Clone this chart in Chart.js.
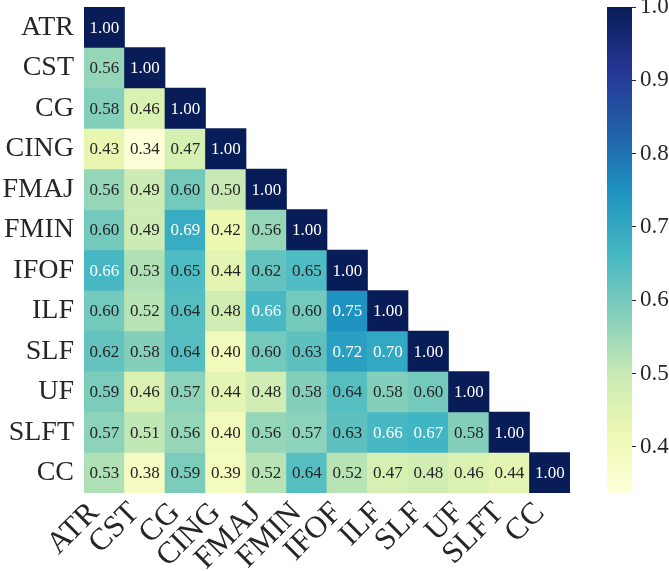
<!DOCTYPE html>
<html><head><meta charset="utf-8">
<script src="https://cdn.jsdelivr.net/npm/chart.js@4.4.0/dist/chart.umd.min.js"></script>
<style>body{margin:0;background:#fff;} canvas{position:absolute;left:0;top:0;}</style>
</head><body>
<canvas id="hm" width="669" height="571"></canvas>
<canvas id="cb" width="669" height="571"></canvas>
<script>
const names = ['ATR','CST','CG','CING','FMAJ','FMIN','IFOF','ILF','SLF','UF','SLFT','CC'];
const rowATR  = [1.00];
const rowCST  = [0.56, 1.00];
const rowCG   = [0.58, 0.46, 1.00];
const rowCING = [0.43, 0.34, 0.47, 1.00];
const rowFMAJ = [0.56, 0.49, 0.60, 0.50, 1.00];
const rowFMIN = [0.60, 0.49, 0.69, 0.42, 0.56, 1.00];
const rowIFOF = [0.66, 0.53, 0.65, 0.44, 0.62, 0.65, 1.00];
const rowILF  = [0.60, 0.52, 0.64, 0.48, 0.66, 0.60, 0.75, 1.00];
const rowSLF  = [0.62, 0.58, 0.64, 0.40, 0.60, 0.63, 0.72, 0.70, 1.00];
const rowUF   = [0.59, 0.46, 0.57, 0.44, 0.48, 0.58, 0.64, 0.58, 0.60, 1.00];
const rowSLFT = [0.57, 0.51, 0.56, 0.40, 0.56, 0.57, 0.63, 0.66, 0.67, 0.58, 1.00];
const rowCC   = [0.53, 0.38, 0.59, 0.39, 0.52, 0.64, 0.52, 0.47, 0.48, 0.46, 0.44, 1.00];
const matrix = [rowATR,rowCST,rowCG,rowCING,rowFMAJ,rowFMIN,rowIFOF,rowILF,rowSLF,rowUF,rowSLFT,rowCC];
const cbTicks = [0.4,0.5,0.6,0.7,0.8,0.9,1.0];
const vmin = 0.337, vmax = 1.0;
const ylgnbu = ['#ffffd9','#edf8b1','#c7e9b4','#7fcdbb','#41b6c4','#1d91c0','#225ea8','#253494','#081d58'];

function hex2rgb(h){return [parseInt(h.substr(1,2),16),parseInt(h.substr(3,2),16),parseInt(h.substr(5,2),16)];}
function cmap(v){
  let t=(v-vmin)/(vmax-vmin); t=Math.max(0,Math.min(1,t));
  const p=t*8; const i=Math.min(7,Math.floor(p)); const f=p-i;
  const a=hex2rgb(ylgnbu[i]), b=hex2rgb(ylgnbu[i+1]);
  return a.map((c,k)=>Math.round(c+(b[k]-c)*f));
}
function rgbStr(c){return 'rgb('+c[0]+','+c[1]+','+c[2]+')';}
function lum(c){
  const l=c.map(x=>{x/=255;return x<=0.03928?x/12.92:Math.pow((x+0.055)/1.055,2.4);});
  return 0.2126*l[0]+0.7152*l[1]+0.0722*l[2];
}
const FONT='Liberation Serif';

const annot = {
  id:'annot',
  afterDatasetsDraw(chart){
    const ctx=chart.ctx;
    ctx.save();
    ctx.font='17px "'+FONT+'"';
    ctx.textAlign='center'; ctx.textBaseline='middle';
    chart.data.datasets.forEach((ds,di)=>{
      const meta=chart.getDatasetMeta(di);
      meta.data.forEach((el,j)=>{
        const v=ds.data[j].v; const c=cmap(v);
        ctx.fillStyle = lum(c)>0.408 ? '#262626' : '#ffffff';
        ctx.fillText(v.toFixed(2), el.x, (el.y+el.base)/2+1);
      });
    });
    ctx.restore();
  }
};

const datasets = matrix.map((row,i)=>({
  label:names[i],
  data: row.map((v,j)=>({x:names[j], y:[i,i+1], v:v})),
  backgroundColor: ctx => ctx.raw ? rgbStr(cmap(ctx.raw.v)) : '#fff',
  borderWidth:0, barPercentage:1, categoryPercentage:1, grouped:false, borderSkipped:false
}));

function noPad(s){s.paddingTop=0;s.paddingBottom=0;s.paddingLeft=0;s.paddingRight=0;}

new Chart(document.getElementById('hm'), {
  type:'bar',
  data:{labels:names, datasets:datasets},
  plugins:[annot],
  options:{
    responsive:false, animation:false, devicePixelRatio:1,
    layout:{padding:{top:7,right:99,left:0,bottom:0}},
    plugins:{legend:{display:false}, tooltip:{enabled:false}},
    scales:{
      x:{type:'category', grid:{display:false, drawTicks:false, tickLength:0}, border:{display:false},
         ticks:{minRotation:45, maxRotation:45, autoSkip:false, padding:2, labelOffset:-10, color:'#262626', font:{family:FONT, size:31}},
         afterFit:s=>{s.height=78;noPad(s);}},
      y:{type:'linear', min:0, max:12, reverse:true,
         grid:{display:false, drawTicks:false, tickLength:0}, border:{display:false},
         afterBuildTicks:s=>{s.ticks=names.map((n,i)=>({value:i+0.5}));},
         ticks:{padding:10, color:'#262626', font:{family:FONT, size:28}, callback:(v,idx)=>names[idx]},
         afterFit:s=>{s.width=84;noPad(s);}}
    }
  }
});

new Chart(document.getElementById('cb'), {
  type:'bar',
  data:{labels:['cb'], datasets:[{data:[[vmin,vmax]],
    backgroundColor: ctx=>{
      const c=ctx.chart; if(!c.chartArea) return ylgnbu[4];
      const ys=c.scales.y;
      const g=c.ctx.createLinearGradient(0, ys.getPixelForValue(vmin), 0, ys.getPixelForValue(vmax));
      ylgnbu.forEach((col,k)=>g.addColorStop(k/8,col));
      return g;
    },
    barPercentage:1, categoryPercentage:1, borderWidth:0, borderSkipped:false}]},
  options:{
    responsive:false, animation:false, devicePixelRatio:1,
    layout:{padding:{left:607, top:7, bottom:78, right:0}},
    plugins:{legend:{display:false}, tooltip:{enabled:false}},
    scales:{
      x:{display:false},
      y:{position:'right', min:vmin, max:vmax,
         afterBuildTicks:s=>{s.ticks=cbTicks.map(v=>({value:v}));},
         ticks:{callback:v=>v.toFixed(1), color:'#262626', padding:4, font:{family:FONT, size:23}},
         grid:{drawOnChartArea:false, tickLength:4, tickColor:'#262626', tickWidth:1},
         border:{display:false},
         afterFit:s=>{s.width=37;noPad(s);}}
    }
  }
});
</script>
</body></html>
